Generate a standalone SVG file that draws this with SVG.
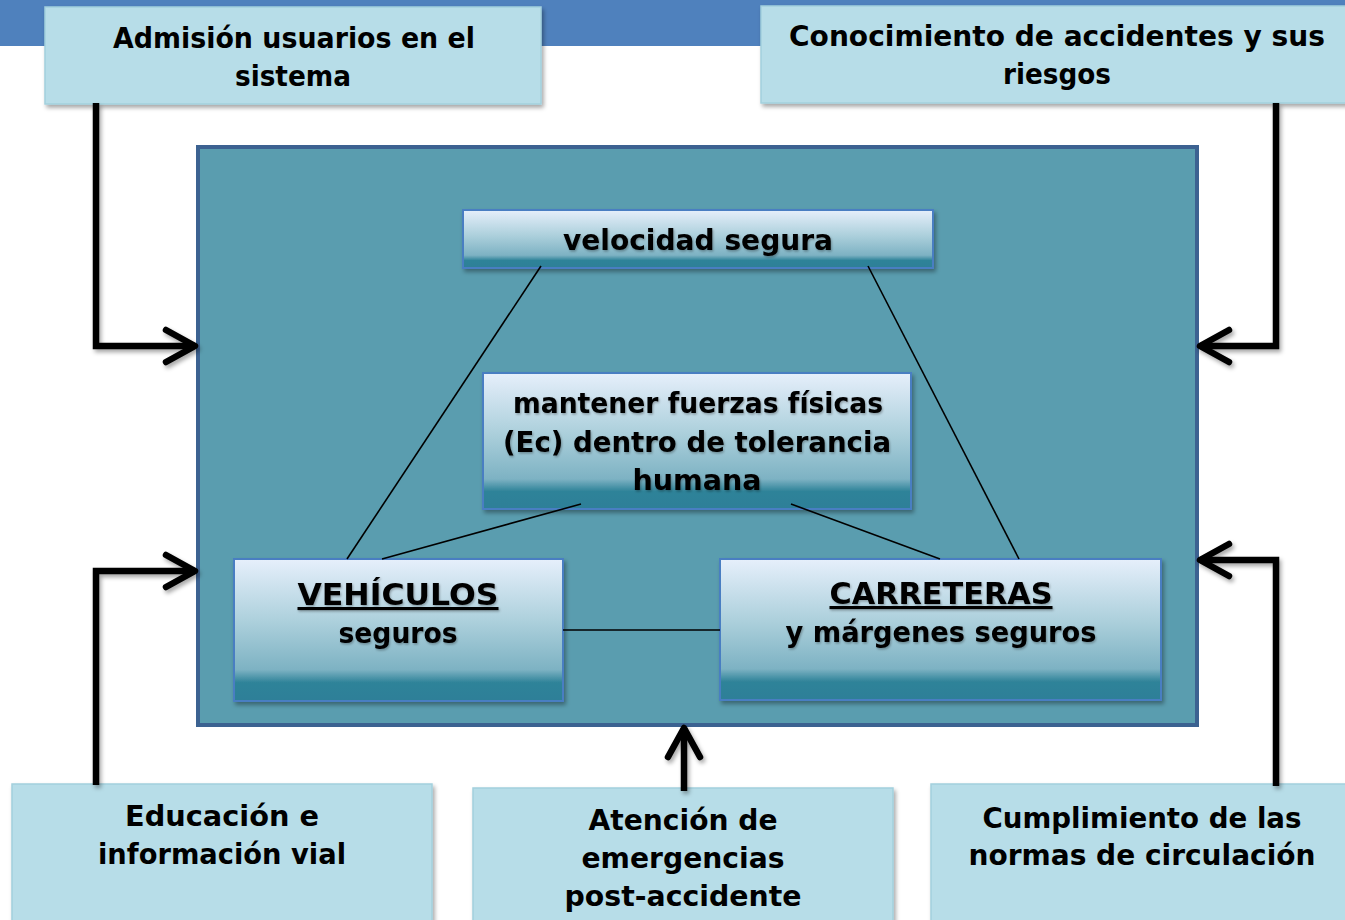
<svg xmlns="http://www.w3.org/2000/svg" width="1345" height="920" viewBox="0 0 1345 920">
<defs>
<linearGradient id="gBox" x1="0" y1="0" x2="0" y2="1">
<stop offset="0" stop-color="#e6effb"/>
<stop offset="0.45" stop-color="#abcfdb"/>
<stop offset="0.78" stop-color="#7db2c3"/>
<stop offset="0.87" stop-color="#2f8399"/>
<stop offset="1" stop-color="#2d7f98"/>
</linearGradient>
<filter id="sh" x="-10%" y="-10%" width="120%" height="130%">
<feDropShadow dx="2" dy="3" stdDeviation="2" flood-color="#000" flood-opacity="0.35"/>
</filter>
<filter id="ash" filterUnits="userSpaceOnUse" x="0" y="0" width="1345" height="920">
<feDropShadow dx="2" dy="3" stdDeviation="2" flood-color="#000" flood-opacity="0.35"/>
</filter>
<filter id="tsh" x="-5%" y="-20%" width="110%" height="150%">
<feDropShadow dx="1" dy="1.5" stdDeviation="1" flood-color="#000" flood-opacity="0.3"/>
</filter>
<marker id="chev" markerUnits="userSpaceOnUse" markerWidth="50" markerHeight="50" viewBox="-40 -25 50 50" refX="0" refY="0" orient="auto">
<path d="M-29,-16 L0,0 L-29,16" fill="none" stroke="#000" stroke-width="6.5" stroke-linecap="round" stroke-linejoin="round"/>
</marker>
<style>
.lb{fill:#b7dde8;stroke:#a3d0dd;stroke-width:1.5}
.gb{fill:url(#gBox);stroke:#4a7ec2;stroke-width:2}
.t{font-family:"DejaVu Sans","Liberation Sans",sans-serif;font-weight:bold;font-size:29px;fill:#000;text-anchor:middle}
.thin{stroke:#000;stroke-width:1.6;fill:none}
.arr{stroke:#000;stroke-width:6.5;fill:none;stroke-linejoin:miter}
</style>
</defs>
<rect x="0" y="0" width="1345" height="920" fill="#fff"/>
<rect id="topbar" x="0" y="0" width="1345" height="46" fill="#4f81bd"/>

<g id="panel">
<rect x="198" y="147" width="999" height="578" fill="#5a9daf" stroke="#3c6291" stroke-width="4"/>
</g>

<g id="n-admision">
<rect class="lb" x="45" y="7" width="496" height="97" filter="url(#sh)"/>
<text class="t" x="294" y="48" textLength="362" lengthAdjust="spacingAndGlyphs">Admisión usuarios en el</text>
<text class="t" x="293" y="86" textLength="116" lengthAdjust="spacingAndGlyphs">sistema</text>
</g>

<g id="n-conocimiento">
<rect class="lb" x="761" y="6" width="590" height="97" filter="url(#sh)"/>
<text class="t" x="1057" y="46" textLength="536" lengthAdjust="spacingAndGlyphs">Conocimiento de accidentes y sus</text>
<text class="t" x="1057" y="84" textLength="108" lengthAdjust="spacingAndGlyphs">riesgos</text>
</g>

<g id="n-velocidad">
<rect class="gb" x="463" y="210" width="470" height="58" filter="url(#sh)"/>
<text class="t" x="698" y="250" textLength="270" lengthAdjust="spacingAndGlyphs" filter="url(#tsh)">velocidad segura</text>
</g>

<g id="n-fuerzas">
<rect class="gb" x="483" y="373" width="428" height="136" filter="url(#sh)"/>
<text class="t" x="698" y="413" textLength="370" lengthAdjust="spacingAndGlyphs" filter="url(#tsh)">mantener fuerzas físicas</text>
<text class="t" x="697" y="452" textLength="388" lengthAdjust="spacingAndGlyphs" filter="url(#tsh)">(Ec) dentro de tolerancia</text>
<text class="t" x="697" y="490" textLength="129" lengthAdjust="spacingAndGlyphs" filter="url(#tsh)">humana</text>
</g>

<g id="n-vehiculos">
<rect class="gb" x="234" y="559" width="329" height="142" filter="url(#sh)"/>
<text class="t" x="398" y="605" textLength="201" lengthAdjust="spacingAndGlyphs" text-decoration="underline" style="font-size:31px" filter="url(#tsh)">VEHÍCULOS</text>
<text class="t" x="398" y="643" textLength="119" lengthAdjust="spacingAndGlyphs" filter="url(#tsh)">seguros</text>
</g>

<g id="n-carreteras">
<rect class="gb" x="720" y="559" width="441" height="141" filter="url(#sh)"/>
<text class="t" x="941" y="604" textLength="223" lengthAdjust="spacingAndGlyphs" text-decoration="underline" style="font-size:31px" filter="url(#tsh)">CARRETERAS</text>
<text class="t" x="941" y="642" textLength="311" lengthAdjust="spacingAndGlyphs" filter="url(#tsh)">y márgenes seguros</text>
</g>

<g id="n-educacion">
<rect class="lb" x="12" y="784" width="420" height="150" filter="url(#sh)"/>
<text class="t" x="222" y="826" textLength="194" lengthAdjust="spacingAndGlyphs">Educación e</text>
<text class="t" x="222" y="864" textLength="248" lengthAdjust="spacingAndGlyphs">información vial</text>
</g>

<g id="n-atencion">
<rect class="lb" x="473" y="788" width="420" height="150" filter="url(#sh)"/>
<text class="t" x="683" y="830" textLength="189" lengthAdjust="spacingAndGlyphs">Atención de</text>
<text class="t" x="683" y="868" textLength="203" lengthAdjust="spacingAndGlyphs">emergencias</text>
<text class="t" x="683" y="906" textLength="237" lengthAdjust="spacingAndGlyphs">post-accidente</text>
</g>

<g id="n-cumplimiento">
<rect class="lb" x="931" y="784" width="420" height="150" filter="url(#sh)"/>
<text class="t" x="1142" y="828" textLength="319" lengthAdjust="spacingAndGlyphs">Cumplimiento de las</text>
<text class="t" x="1142" y="865" textLength="347" lengthAdjust="spacingAndGlyphs">normas de circulación</text>
</g>

<g id="connectors">
<line class="thin" x1="541" y1="266" x2="347" y2="559"/>
<line class="thin" x1="868" y1="266" x2="1019" y2="559"/>
<line class="thin" x1="581" y1="504" x2="382" y2="559"/>
<line class="thin" x1="791" y1="504" x2="940" y2="559"/>
<line class="thin" x1="563" y1="630" x2="720" y2="630"/>
<g filter="url(#ash)">
<path class="arr" d="M96,103 V346 H195" marker-end="url(#chev)"/>
<path class="arr" d="M96,785 V571 H195" marker-end="url(#chev)"/>
<path class="arr" d="M1276,103 V346 H1200" marker-end="url(#chev)"/>
<path class="arr" d="M1276,786 V560 H1200" marker-end="url(#chev)"/>
<path class="arr" d="M684,791 V728" marker-end="url(#chev)"/>
</g>
</g>
</svg>
